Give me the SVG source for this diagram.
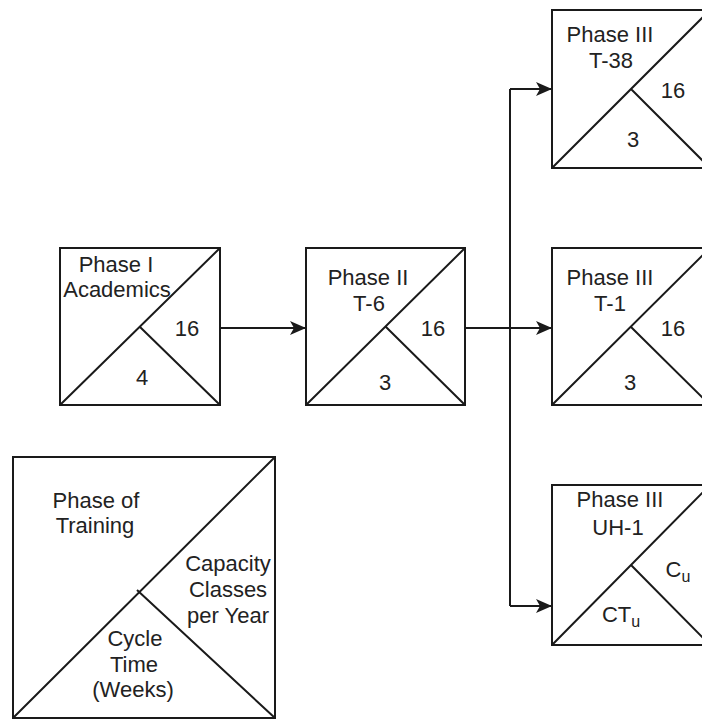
<svg xmlns="http://www.w3.org/2000/svg" width="702" height="719" viewBox="0 0 702 719">
<style>
.box{fill:#fff;stroke:#1a1a1a;stroke-width:2}
.ln{fill:none;stroke:#1a1a1a;stroke-width:2}
text{font-family:"Liberation Sans",Arial,sans-serif;font-size:22px;fill:#222;text-anchor:middle}
</style>
<defs>
<marker id="arr" markerWidth="16" markerHeight="14" refX="15" refY="7" orient="auto" markerUnits="userSpaceOnUse">
<path d="M0,0 L16,7 L0,14 L4,7 z" fill="#1a1a1a"/>
</marker>
</defs>
<rect width="702" height="719" fill="#fff"/>
<g id="connectors">
<path class="ln" d="M220,328 H305" marker-end="url(#arr)"/>
<path class="ln" d="M465,328 H551" marker-end="url(#arr)"/>
<path class="ln" d="M510,89 V606"/>
<path class="ln" d="M510,89 H551" marker-end="url(#arr)"/>
<path class="ln" d="M510,606 H551" marker-end="url(#arr)"/>
</g>
<g id="phase1">
<rect class="box" x="60" y="248" width="160" height="157"/>
<path class="ln" d="M60,405 L220,248 M140,327 L220,405"/>
<text x="116" y="272">Phase I</text>
<text x="117" y="297">Academics</text>
<text x="187" y="336">16</text>
<text x="142" y="385">4</text>
</g>
<g id="phase2">
<rect class="box" x="306" y="248" width="159" height="157"/>
<path class="ln" d="M306,405 L465,248 M386,327 L465,405"/>
<text x="368" y="285">Phase II</text>
<text x="369" y="311">T-6</text>
<text x="433" y="336">16</text>
<text x="385" y="390">3</text>
</g>
<g id="phase3-t38">
<rect class="box" x="552" y="10" width="158" height="158"/>
<path class="ln" d="M552,168 L710,10 M631,89 L710,168"/>
<text x="610" y="42">Phase III</text>
<text x="611" y="68">T-38</text>
<text x="673" y="98">16</text>
<text x="633" y="147">3</text>
</g>
<g id="phase3-t1">
<rect class="box" x="552" y="248" width="158" height="157"/>
<path class="ln" d="M552,405 L710,248 M631,327 L710,405"/>
<text x="610" y="285">Phase III</text>
<text x="610" y="311">T-1</text>
<text x="673" y="336">16</text>
<text x="630" y="390">3</text>
</g>
<g id="phase3-uh1">
<rect class="box" x="552" y="485" width="158" height="160"/>
<path class="ln" d="M552,645 L710,485 M631,565 L710,645"/>
<text x="620" y="507">Phase III</text>
<text x="618" y="535">UH-1</text>
<text x="678" y="577">C<tspan font-size="16" dy="5">u</tspan></text>
<text x="621" y="622">CT<tspan font-size="16" dy="5">u</tspan></text>
</g>
<g id="legend">
<rect class="box" x="13" y="457" width="262" height="261"/>
<path class="ln" d="M13,718 L275,457 M137,590 L275,718"/>
<text x="96" y="508">Phase of</text>
<text x="95" y="533">Training</text>
<text x="228" y="571">Capacity</text>
<text x="228" y="597">Classes</text>
<text x="228" y="623">per Year</text>
<text x="135" y="646">Cycle</text>
<text x="134" y="672">Time</text>
<text x="133" y="697">(Weeks)</text>
</g>
</svg>
